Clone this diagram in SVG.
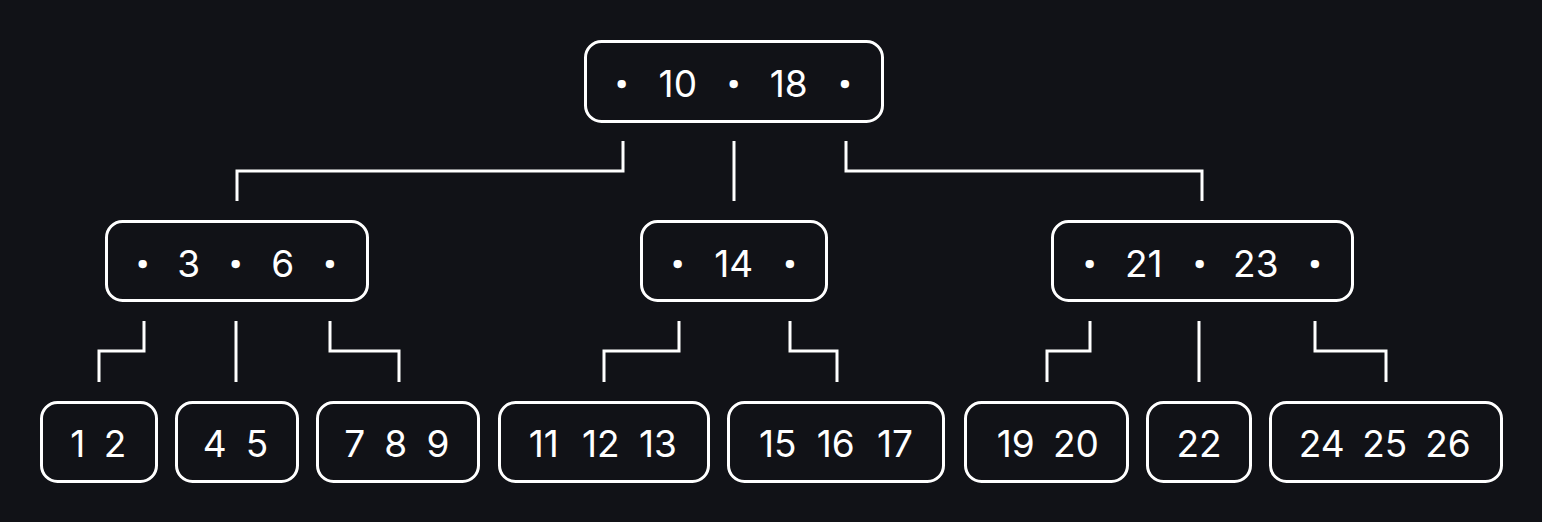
<svg xmlns="http://www.w3.org/2000/svg" width="1542" height="522" viewBox="0 0 1542 522">
<style>
.box{fill:none;stroke:#ffffff;stroke-width:3}
.ln{fill:none;stroke:#ffffff;stroke-width:3}
text{font-family:Inter,"Liberation Sans",sans-serif;font-size:37px;fill:#ffffff;text-anchor:middle}
.d{font-weight:700;stroke:#ffffff;stroke-width:2;stroke-linejoin:round}
</style>
<rect width="1542" height="522" fill="#111217"/>
<g id="connectors">
<polyline class="ln" points="623,141 623,171 237,171 237,201"/>
<polyline class="ln" points="734,141 734,201"/>
<polyline class="ln" points="846,141 846,171 1202,171 1202,201"/>
<polyline class="ln" points="144,321 144,351 99,351 99,382"/>
<polyline class="ln" points="236,321 236,382"/>
<polyline class="ln" points="330,321 330,351 399,351 399,382"/>
<polyline class="ln" points="679,321 679,351 604,351 604,382"/>
<polyline class="ln" points="790,321 790,351 837,351 837,382"/>
<polyline class="ln" points="1090,321 1090,351 1047,351 1047,382"/>
<polyline class="ln" points="1199,321 1199,382"/>
<polyline class="ln" points="1315,321 1315,351 1386,351 1386,382"/>
</g>
<g id="root">
<rect class="box" x="585.5" y="41.5" width="297" height="80" rx="16"/>
<text y="97"><tspan class="d" x="627">·</tspan> <tspan x="683">10</tspan> <tspan class="d" x="739">·</tspan> <tspan x="794">18</tspan> <tspan class="d" x="845">·</tspan></text>
</g>
<g id="n36">
<rect class="box" x="106.5" y="221.5" width="261" height="79" rx="16"/>
<text y="277"><tspan class="d" x="148">·</tspan> <tspan x="194">3</tspan> <tspan class="d" x="241">·</tspan> <tspan x="288">6</tspan> <tspan class="d" x="330">·</tspan></text>
</g>
<g id="n14">
<rect class="box" x="641.5" y="221.5" width="185" height="79" rx="16"/>
<text y="277"><tspan class="d" x="683">·</tspan> <tspan x="739">14</tspan> <tspan class="d" x="790">·</tspan></text>
</g>
<g id="n2123">
<rect class="box" x="1052.5" y="221.5" width="300" height="79" rx="16"/>
<text y="277"><tspan class="d" x="1095">·</tspan> <tspan x="1149">21</tspan> <tspan class="d" x="1205">·</tspan> <tspan x="1261">23</tspan> <tspan class="d" x="1315">·</tspan></text>
</g>
<g id="l12">
<rect class="box" x="41.5" y="402.5" width="115" height="79" rx="16"/>
<text y="457"><tspan x="83">1</tspan> <tspan x="115">2</tspan></text>
</g>
<g id="l45">
<rect class="box" x="176.5" y="402.5" width="121" height="79" rx="16"/>
<text y="457"><tspan x="220">4</tspan> <tspan x="257">5</tspan></text>
</g>
<g id="l789">
<rect class="box" x="317.5" y="402.5" width="161" height="79" rx="16"/>
<text y="457"><tspan x="360">7</tspan> <tspan x="401">8</tspan> <tspan x="438">9</tspan></text>
</g>
<g id="l111213">
<rect class="box" x="499.5" y="402.5" width="209" height="79" rx="16"/>
<text y="457"><tspan x="549">11</tspan> <tspan x="606">12</tspan> <tspan x="658">13</tspan></text>
</g>
<g id="l151617">
<rect class="box" x="728.5" y="402.5" width="215" height="79" rx="16"/>
<text y="457"><tspan x="783">15</tspan> <tspan x="841">16</tspan> <tspan x="895">17</tspan></text>
</g>
<g id="l1920">
<rect class="box" x="965.5" y="402.5" width="162" height="79" rx="16"/>
<text y="457"><tspan x="1021">19</tspan> <tspan x="1076">20</tspan></text>
</g>
<g id="l22">
<rect class="box" x="1147.5" y="402.5" width="103" height="79" rx="16"/>
<text y="457"><tspan x="1199">22</tspan></text>
</g>
<g id="l242526">
<rect class="box" x="1270.5" y="402.5" width="231" height="79" rx="16"/>
<text y="457"><tspan x="1327">24</tspan> <tspan x="1390">25</tspan> <tspan x="1448">26</tspan></text>
</g>
</svg>
